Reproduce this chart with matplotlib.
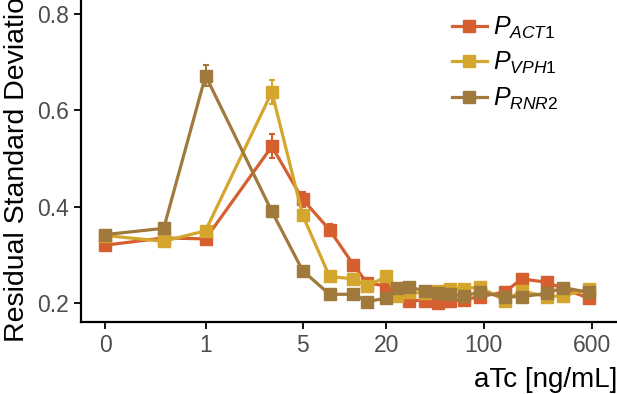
import numpy as np
import matplotlib
matplotlib.use("Agg")
import matplotlib.pyplot as plt

plt.rcParams['font.family'] = ['Liberation Sans', 'DejaVu Sans']
plt.rcParams['mathtext.fontset'] = 'custom'
plt.rcParams['mathtext.it'] = 'Liberation Sans:italic'
plt.rcParams['mathtext.rm'] = 'Liberation Sans'

# aTc concentrations [ng/mL]
atc = [0, 0.5, 1, 3, 5, 7.8, 11.6, 14.5, 20, 24, 29, 38, 47, 57, 72, 94, 143, 188, 285, 375, 570]

act1 = [0.320, 0.335, 0.333, 0.525, 0.415, 0.352, 0.279, 0.242, 0.235, 0.228, 0.205, 0.205,
        0.200, 0.205, 0.207, 0.213, 0.223, 0.250, 0.243, 0.230, 0.210]
act1_err = [0.008, 0.006, 0.008, 0.025, 0.015, 0.012, 0.010, 0.008, 0.008, 0.008, 0.006, 0.006,
            0.006, 0.006, 0.006, 0.006, 0.006, 0.008, 0.008, 0.006, 0.006]

vph1 = [0.340, 0.328, 0.350, 0.638, 0.382, 0.255, 0.250, 0.235, 0.255, 0.215, 0.222, 0.220,
        0.225, 0.230, 0.230, 0.233, 0.205, 0.225, 0.213, 0.215, 0.228]
vph1_err = [0.008, 0.006, 0.008, 0.025, 0.010, 0.006, 0.006, 0.006, 0.008, 0.006, 0.006, 0.006,
            0.006, 0.006, 0.006, 0.006, 0.008, 0.006, 0.006, 0.006, 0.006]

rnr2 = [0.342, 0.355, 0.672, 0.390, 0.267, 0.218, 0.218, 0.203, 0.210, 0.232, 0.233, 0.225,
        0.220, 0.218, 0.215, 0.222, 0.213, 0.213, 0.220, 0.232, 0.222]
rnr2_err = [0.010, 0.006, 0.022, 0.010, 0.008, 0.006, 0.006, 0.006, 0.006, 0.006, 0.006, 0.006,
            0.006, 0.006, 0.006, 0.006, 0.006, 0.006, 0.006, 0.006, 0.006]

series_labels = [r'$P_{ACT1}$', r'$P_{VPH1}$', r'$P_{RNR2}$']
colors = ['#D65F30', '#D4A62E', '#A07A3C']

xticks = [0, 1, 5, 20, 100, 600]
xtick_labels = ['0', '1', '5', '20', '100', '600']
yticks = [0.2, 0.4, 0.6, 0.8]
ytick_labels = ['0.2', '0.4', '0.6', '0.8']
ZERO_STANDIN = 0.19  # where the 0 concentration sits on the log axis


def xpos(v):
    v = np.asarray(v, dtype=float)
    return np.log10(np.where(v > 0, v, ZERO_STANDIN))


fig = plt.figure(figsize=(6.17, 3.94), dpi=100)
ax = fig.add_axes([81 / 617, 72 / 394, 536 / 617, 322 / 394])

handles = []
for y, e, lab, c in zip([act1, vph1, rnr2], [act1_err, vph1_err, rnr2_err], series_labels, colors):
    cont = ax.errorbar(xpos(atc), y, yerr=e, color=c, lw=2.3, marker='s', ms=8,
                       mec=c, mfc=c, elinewidth=1.5, capsize=2.5, capthick=1.5, label=lab)
    handles.append(cont[0])

ax.set_xlim(np.log10(0.127), np.log10(913))
ax.set_ylim(0.1605, 0.829)
ax.set_xticks(xpos(xticks))
ax.set_xticklabels(xtick_labels)
ax.set_yticks(yticks)
ax.set_yticklabels(ytick_labels)

for s in ['top', 'right']:
    ax.spines[s].set_visible(False)
for s in ['left', 'bottom']:
    ax.spines[s].set_linewidth(1.6)
    ax.spines[s].set_color('black')

ax.tick_params(axis='both', labelsize=16.5, colors='black', labelcolor='#4D4D4D',
               length=5, width=1.3)
ax.tick_params(axis='x', pad=4)

ax.set_ylabel('Residual Standard Deviation', fontsize=20.5, color='black', labelpad=5)
ax.set_xlabel('aTc [ng/mL]', fontsize=20, color='black', loc='right', labelpad=7)

leg = ax.legend(handles, series_labels, loc='upper left', bbox_to_anchor=(0.665, 1.0),
                frameon=False, fontsize=18, handlelength=1.4, handletextpad=0.25,
                labelspacing=0.38, borderpad=0.08)

fig.savefig('out.png', dpi=100)
